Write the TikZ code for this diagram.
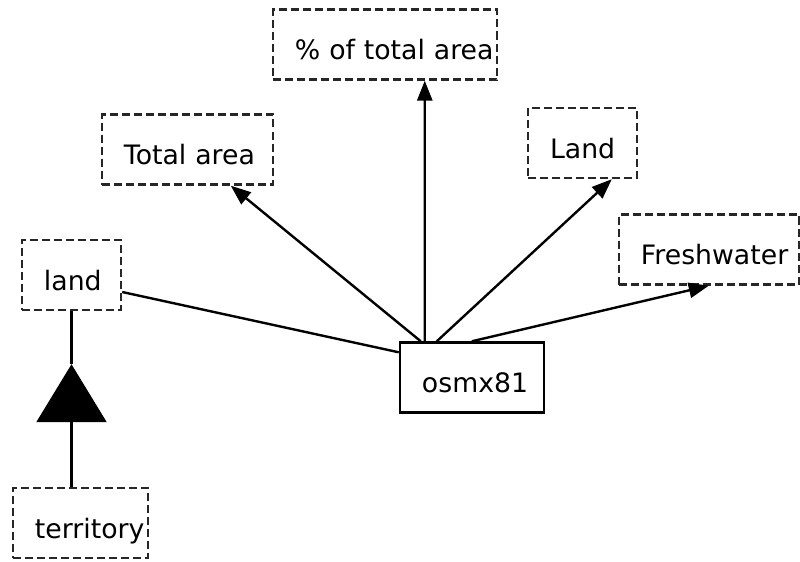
\documentclass[tikz,border=0pt]{standalone}
\usepackage{fontspec}
\setmainfont{DejaVu Sans}
\usetikzlibrary{arrows.meta, positioning, calc}

\begin{document}
\begin{tikzpicture}[
        x=0.025cm, y=-0.025cm,
        line width=0.06cm,
        attr/.style={rectangle, draw=black!85, dashed, dash pattern=on 0.2cm off 0.1cm, minimum height=1.75cm, inner ysep=0pt, inner xsep=0.55cm, text height=0.75cm, text depth=0pt, align=left, font=\fontsize{19}{23}\selectfont},
        entity/.style={attr, solid, draw=black, align=center},
        arrow/.style={-{Triangle[length=0.5cm, width=0.38cm]}, draw=black},
        inherit/.style={-{Triangle[length=1.45cm, width=1.75cm]}, draw=black}
    ]
        \useasboundingbox (0,0) rectangle (800,561);

        \node[attr, minimum width=5.6cm, text width=4.5cm] (pct) at (385,44.5) {\mbox{\% of total area}};
        \node[attr, minimum width=4.275cm, text width=3.175cm] (total) at (187.5,149.5) {\mbox{Total area}};
        \node[attr, minimum width=2.725cm, text width=1.625cm] (land2) at (582.5,143) {\mbox{Land}};
        \node[attr, minimum width=4.5cm, text width=3.4cm] (fresh) at (709,249.5) {\mbox{Freshwater}};
        \node[attr, minimum width=2.475cm, text width=1.375cm] (landa) at (71.5,275) {\mbox{land}};
        \node[entity, minimum width=3.6cm, text width=2.5cm] (osmx) at (472,377.5) {\mbox{osmx81}};
        \node[attr, minimum width=3.375cm, text width=2.275cm] (terr) at (80.5,523) {\mbox{territory}};

        \coordinate (inh) at ($(landa.south)+(0,53)$);

        \draw[arrow] ($(osmx.north west)+(26,0)$) -- ($(pct.south west)+(153,0)$);
        \draw[arrow] ($(osmx.north west)+(22,0)$) -- ($(total.south west)+(130,0)$);
        \draw[arrow] ($(osmx.north west)+(38,0)$) -- ($(land2.south west)+(85,0)$);
        \draw[arrow] ($(osmx.north west)+(73,0)$) -- ($(fresh.south west)+(91,0)$);
        \draw ($(osmx.north west)+(0,11)$) -- ($(landa.east)+(0,17)$);
        \draw[inherit] (landa.south |- terr.north) -- (inh);
        \draw (inh) -- (landa.south);
    \end{tikzpicture}
\end{document}
